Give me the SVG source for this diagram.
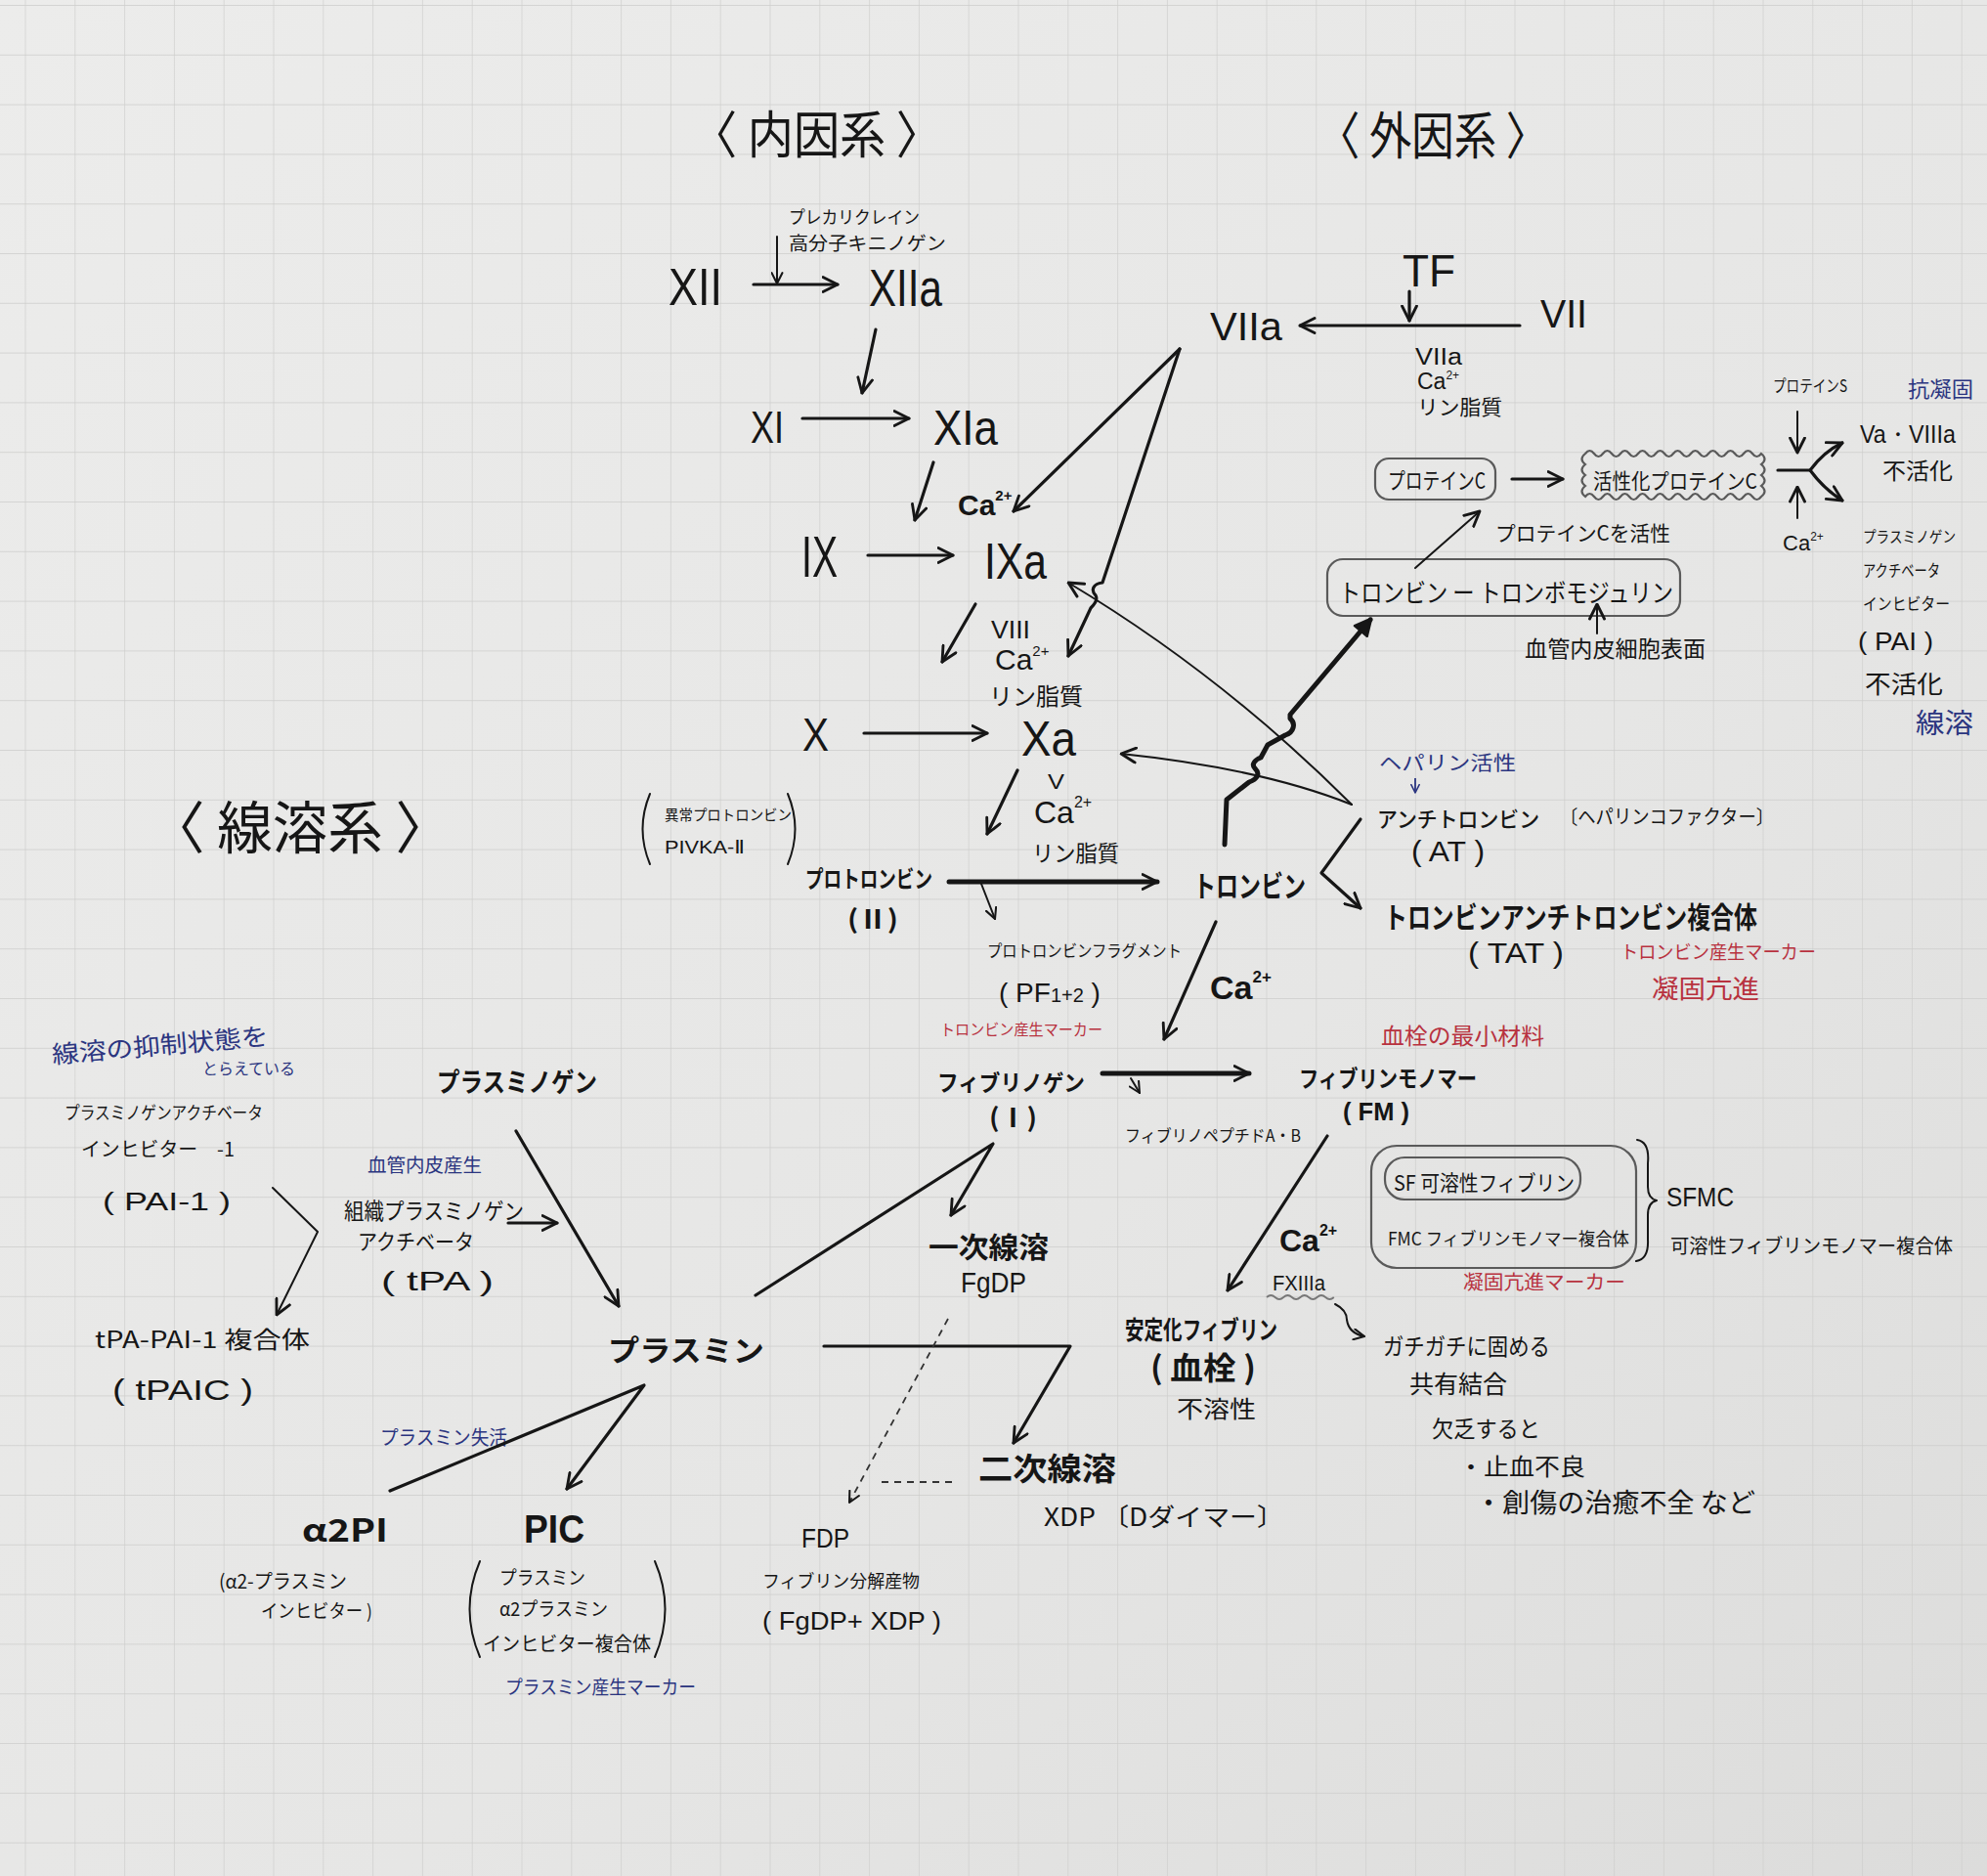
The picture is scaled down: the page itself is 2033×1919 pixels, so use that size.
<svg xmlns="http://www.w3.org/2000/svg" width="2033" height="1919" viewBox="0 0 2033 1919">
<defs>
<linearGradient id="paper" x1="0" y1="0" x2="1" y2="1">
<stop offset="0" stop-color="#ececeb"/>
<stop offset="0.6" stop-color="#e6e6e5"/>
<stop offset="1" stop-color="#dcdcdb"/>
</linearGradient>
<pattern id="grid" x="25.5" y="5" width="50.8" height="50.8" patternUnits="userSpaceOnUse">
<path d="M0,0 H50.8 M0,0 V50.8" stroke="#cdcdcb" stroke-width="1.3" fill="none"/>
</pattern>
<marker id="ah" viewBox="0 0 12 12" refX="11" refY="6" markerWidth="18" markerHeight="18" markerUnits="userSpaceOnUse" orient="auto">
<path d="M1,1 L11,6 L1,11" fill="none" stroke="#161616" stroke-width="1.9" stroke-linejoin="round" stroke-linecap="round"/>
</marker>
<marker id="ahs" viewBox="0 0 12 12" refX="11" refY="6" markerWidth="13" markerHeight="13" markerUnits="userSpaceOnUse" orient="auto">
<path d="M1,1 L11,6 L1,11" fill="none" stroke="#161616" stroke-width="1.9" stroke-linejoin="round" stroke-linecap="round"/>
</marker>
<marker id="ahbl" viewBox="0 0 12 12" refX="11" refY="6" markerWidth="10" markerHeight="10" markerUnits="userSpaceOnUse" orient="auto">
<path d="M1,1 L11,6 L1,11" fill="none" stroke="#2b3580" stroke-width="1.9" stroke-linejoin="round" stroke-linecap="round"/>
</marker>
<marker id="ahb" viewBox="0 0 12 12" refX="10" refY="6" markerWidth="20" markerHeight="20" markerUnits="userSpaceOnUse" orient="auto">
<path d="M1,1 L11,6 L1,11 Z" fill="#161616" stroke="#161616" stroke-width="1.5" stroke-linejoin="round"/>
</marker>
<style>
text{font-family:"Noto Sans CJK JP","Noto Sans",sans-serif;fill:#161616}
.lat{font-family:"Liberation Sans","DejaVu Sans",sans-serif}
.b{font-weight:bold}
.m{font-weight:500}
.blue{fill:#2b3580}
.red{fill:#b8323f}
.ln{fill:none;stroke:#161616;stroke-width:3.2;stroke-linecap:round;stroke-linejoin:round}
.thin{fill:none;stroke:#161616;stroke-width:2;stroke-linecap:round;stroke-linejoin:round}
.thick{fill:none;stroke:#161616;stroke-width:5;stroke-linecap:round;stroke-linejoin:round}
.dash{fill:none;stroke:#333;stroke-width:1.8;stroke-dasharray:7,6}
.box{fill:none;stroke:#5a5a5a;stroke-width:2.2}
</style>
</defs>

<rect width="2033" height="1919" fill="url(#paper)"/>
<rect width="2033" height="1919" fill="url(#grid)"/>

<!-- titles -->
<g id="title-intrinsic"><text x="707" y="157" font-size="52" textLength="257" lengthAdjust="spacingAndGlyphs">〈 内因系 〉</text></g>
<g id="title-extrinsic"><text x="1348" y="158" font-size="52" textLength="236" lengthAdjust="spacingAndGlyphs">〈 外因系 〉</text></g>
<g id="title-fibrinolysis"><text x="153" y="868" font-size="58" textLength="308" lengthAdjust="spacingAndGlyphs">〈 線溶系 〉</text></g>

<!-- intrinsic pathway -->
<g id="n-prekallikrein">
<text x="807" y="229" font-size="18" textLength="134" lengthAdjust="spacingAndGlyphs">プレカリクレイン</text>
<text x="807" y="256" font-size="19" textLength="161" lengthAdjust="spacingAndGlyphs">高分子キニノゲン</text>
</g>
<g id="n-XII"><text class="lat" x="684" y="312" font-size="54" textLength="55" lengthAdjust="spacingAndGlyphs">XII</text></g>
<g id="n-XIIa"><text class="lat" x="889" y="313" font-size="54" textLength="75" lengthAdjust="spacingAndGlyphs">XIIa</text></g>
<g id="n-XI"><text class="lat" x="768" y="453" font-size="46" textLength="34" lengthAdjust="spacingAndGlyphs">XI</text></g>
<g id="n-XIa"><text class="lat" x="955" y="455" font-size="50" textLength="66" lengthAdjust="spacingAndGlyphs">XIa</text></g>
<g id="n-ca1"><text class="lat b" x="980" y="527" font-size="30">Ca<tspan font-size="15" dy="-15">2+</tspan></text></g>
<g id="n-IX"><text class="lat" x="820" y="590" font-size="60" textLength="37" lengthAdjust="spacingAndGlyphs">IX</text></g>
<g id="n-IXa"><text class="lat" x="1007" y="592" font-size="52" textLength="64" lengthAdjust="spacingAndGlyphs">IXa</text></g>
<g id="n-cof-IXa">
<text class="lat" x="1014" y="653" font-size="26" textLength="40" lengthAdjust="spacingAndGlyphs">VIII</text>
<text class="lat" x="1018" y="685" font-size="30">Ca<tspan font-size="15" dy="-14">2+</tspan></text>
<text x="1012" y="721" font-size="24" textLength="96" lengthAdjust="spacingAndGlyphs">リン脂質</text>
</g>
<g id="n-X"><text class="lat" x="821" y="768" font-size="48" textLength="27" lengthAdjust="spacingAndGlyphs">X</text></g>
<g id="n-Xa"><text class="lat" x="1045" y="773" font-size="50" textLength="56" lengthAdjust="spacingAndGlyphs">Xa</text></g>
<g id="n-cof-Xa">
<text class="lat" x="1072" y="807" font-size="22" textLength="17" lengthAdjust="spacingAndGlyphs">V</text>
<text class="lat" x="1058" y="842" font-size="32">Ca<tspan font-size="16" dy="-16">2+</tspan></text>
<text x="1056" y="881" font-size="23" textLength="89" lengthAdjust="spacingAndGlyphs">リン脂質</text>
</g>
<g id="n-pivka">
<path class="thin" d="M665,812 Q650,848 665,884"/>
<text x="680" y="839" font-size="15" textLength="130" lengthAdjust="spacingAndGlyphs">異常プロトロンビン</text>
<text class="lat" x="680" y="873" font-size="19" textLength="82" lengthAdjust="spacingAndGlyphs">PIVKA-Ⅱ</text>
<path class="thin" d="M806,812 Q821,848 806,884"/>
</g>
<g id="n-prothrombin">
<text class="b" x="824" y="908" font-size="24" textLength="130" lengthAdjust="spacingAndGlyphs">プロトロンビン</text>
<text class="b" x="867" y="950" font-size="26" textLength="52" lengthAdjust="spacingAndGlyphs">(Ⅱ)</text>
</g>
<g id="n-pf12">
<text x="1010" y="979" font-size="17" textLength="199" lengthAdjust="spacingAndGlyphs">プロトロンビンフラグメント</text>
<text class="lat" x="1022" y="1025" font-size="28">(   PF<tspan font-size="20">1+2</tspan>   )</text>
<text class="red" x="962" y="1059" font-size="16" textLength="166" lengthAdjust="spacingAndGlyphs">トロンビン産生マーカー</text>
</g>
<g id="n-thrombin"><text class="b" x="1221" y="917" font-size="30" textLength="115" lengthAdjust="spacingAndGlyphs">トロンビン</text></g>
<g id="n-ca-thrombin"><text class="lat b" x="1238" y="1022" font-size="34">Ca<tspan font-size="17" dy="-17">2+</tspan></text></g>

<!-- extrinsic pathway -->
<g id="n-TF"><text class="lat" x="1435" y="293" font-size="46" textLength="54" lengthAdjust="spacingAndGlyphs">TF</text></g>
<g id="n-VIIa"><text class="lat m" x="1238" y="348" font-size="40" textLength="74" lengthAdjust="spacingAndGlyphs">VIIa</text></g>
<g id="n-VII"><text class="lat" x="1576" y="335" font-size="40" textLength="48" lengthAdjust="spacingAndGlyphs">VII</text></g>
<g id="n-cof-VIIa">
<text class="lat" x="1448" y="373" font-size="23" textLength="48" lengthAdjust="spacingAndGlyphs">VIIa</text>
<text class="lat" x="1450" y="398" font-size="23">Ca<tspan font-size="12" dy="-10">2+</tspan></text>
<text x="1450" y="424" font-size="21" textLength="87" lengthAdjust="spacingAndGlyphs">リン脂質</text>
</g>
<g id="n-proteinC">
<rect class="box" x="1407" y="469" width="123" height="42" rx="14"/>
<text x="1420" y="500" font-size="23" textLength="100" lengthAdjust="spacingAndGlyphs">プロテインC</text>
</g>
<g id="n-aPC">
<path class="box" d="M1622,464 q4.5,-6 9,0 q4.5,6 9,0 q4.5,-6 9,0 q4.5,6 9,0 q4.5,-6 9,0 q4.5,6 9,0 q4.5,-6 9,0 q4.5,6 9,0 q4.5,-6 9,0 q4.5,6 9,0 q4.5,-6 9,0 q4.5,6 9,0 q4.5,-6 9,0 q4.5,6 9,0 q4.5,-6 9,0 q4.5,6 9,0 q4.5,-6 9,0 q4.5,6 9,0 q4.5,-6 9,0 q4.5,6 9,0 q7,5.5 0,11 q7,5.5 0,11 q7,5.5 0,11 q7,5.5 0,11 q-4.5,6 -9,0 q-4.5,-6 -9,0 q-4.5,6 -9,0 q-4.5,-6 -9,0 q-4.5,6 -9,0 q-4.5,-6 -9,0 q-4.5,6 -9,0 q-4.5,-6 -9,0 q-4.5,6 -9,0 q-4.5,-6 -9,0 q-4.5,6 -9,0 q-4.5,-6 -9,0 q-4.5,6 -9,0 q-4.5,-6 -9,0 q-4.5,6 -9,0 q-4.5,-6 -9,0 q-4.5,6 -9,0 q-4.5,-6 -9,0 q-4.5,6 -9,0 q-4.5,-6 -9,0 q-7,-5.5 0,-11 q-7,-5.5 0,-11 q-7,-5.5 0,-11 q-7,-5.5 0,-11 Z"/>
<text x="1630" y="500" font-size="22" textLength="168" lengthAdjust="spacingAndGlyphs">活性化プロテインC</text>
</g>
<g id="n-activatePC"><text x="1530" y="553" font-size="21" textLength="179" lengthAdjust="spacingAndGlyphs">プロテインCを活性</text></g>
<g id="n-TM">
<rect class="box" x="1358" y="572" width="361" height="58" rx="16"/>
<text x="1370" y="616" font-size="26" textLength="342" lengthAdjust="spacingAndGlyphs">トロンビン ー トロンボモジュリン</text>
</g>
<g id="n-endothelium"><text x="1560" y="672" font-size="23" textLength="185" lengthAdjust="spacingAndGlyphs">血管内皮細胞表面</text></g>
<g id="n-proteinS"><text x="1814" y="401" font-size="17" textLength="76" lengthAdjust="spacingAndGlyphs">プロテインS</text></g>
<g id="n-anticoag"><text class="blue" x="1952" y="406" font-size="22" textLength="67" lengthAdjust="spacingAndGlyphs">抗凝固</text></g>
<g id="n-VaVIIIa">
<text class="lat" x="1903" y="453" font-size="25" textLength="98" lengthAdjust="spacingAndGlyphs">Va・VIIIa</text>
<text x="1926" y="490" font-size="23" textLength="72" lengthAdjust="spacingAndGlyphs">不活化</text>
</g>
<g id="n-ca-apc"><text class="lat" x="1824" y="563" font-size="22">Ca<tspan font-size="12" dy="-10">2+</tspan></text></g>
<g id="n-PAI">
<text x="1906" y="555" font-size="16" textLength="95" lengthAdjust="spacingAndGlyphs">プラスミノゲン</text>
<text x="1906" y="590" font-size="17" textLength="79" lengthAdjust="spacingAndGlyphs">アクチベータ</text>
<text x="1906" y="624" font-size="17" textLength="89" lengthAdjust="spacingAndGlyphs">インヒビター</text>
<text class="lat" x="1901" y="665" font-size="26" textLength="77" lengthAdjust="spacingAndGlyphs">( PAI )</text>
<text x="1908" y="709" font-size="25" textLength="80" lengthAdjust="spacingAndGlyphs">不活化</text>
<text class="blue" x="1960" y="750" font-size="28" textLength="59" lengthAdjust="spacingAndGlyphs">線溶</text>
</g>
<g id="n-AT">
<text class="blue" x="1411" y="788" font-size="20" textLength="140" lengthAdjust="spacingAndGlyphs">ヘパリン活性</text>
<text class="m" x="1409" y="846" font-size="22" textLength="166" lengthAdjust="spacingAndGlyphs">アンチトロンビン</text>
<text x="1596" y="843" font-size="20" textLength="219" lengthAdjust="spacingAndGlyphs">〔ヘパリンコファクター〕</text>
<text class="lat m" x="1444" y="881" font-size="30" textLength="75" lengthAdjust="spacingAndGlyphs">( AT )</text>
</g>
<g id="n-TAT">
<text class="b" x="1416" y="949" font-size="30" textLength="382" lengthAdjust="spacingAndGlyphs">トロンビンアンチトロンビン複合体</text>
<text class="lat m" x="1502" y="985" font-size="30" textLength="98" lengthAdjust="spacingAndGlyphs">( TAT )</text>
<text class="red" x="1658" y="981" font-size="19" textLength="200" lengthAdjust="spacingAndGlyphs">トロンビン産生マーカー</text>
<text class="red" x="1690" y="1021" font-size="26" textLength="110" lengthAdjust="spacingAndGlyphs">凝固亢進</text>
</g>

<!-- fibrin formation -->
<g id="n-fibrinogen">
<text class="b" x="959" y="1116" font-size="23" textLength="151" lengthAdjust="spacingAndGlyphs">フィブリノゲン</text>
<text class="b" x="1012" y="1153" font-size="26" textLength="49" lengthAdjust="spacingAndGlyphs">(Ⅰ)</text>
</g>
<g id="n-FPAB"><text x="1151" y="1168" font-size="17" textLength="180" lengthAdjust="spacingAndGlyphs">フィブリノペプチドA・B</text></g>
<g id="n-FM">
<text class="red" x="1413" y="1068" font-size="23" textLength="167" lengthAdjust="spacingAndGlyphs">血栓の最小材料</text>
<text class="b" x="1329" y="1112" font-size="24" textLength="182" lengthAdjust="spacingAndGlyphs">フィブリンモノマー</text>
<text class="lat b" x="1374" y="1146" font-size="26" textLength="68" lengthAdjust="spacingAndGlyphs">( FM )</text>
</g>
<g id="n-SFMC">
<rect class="box" x="1403" y="1172" width="271" height="125" rx="26"/>
<rect class="box" x="1417" y="1184" width="200" height="43" rx="20"/>
<text x="1426" y="1218" font-size="22" textLength="185" lengthAdjust="spacingAndGlyphs">SF 可溶性フィブリン</text>
<text x="1420" y="1274" font-size="18" textLength="247" lengthAdjust="spacingAndGlyphs">FMC フィブリンモノマー複合体</text>
<path class="thin" d="M1675,1166 Q1688,1168 1686,1190 L1686,1214 Q1686,1226 1695,1228 Q1686,1230 1686,1243 L1686,1268 Q1687,1288 1674,1290"/>
<text class="lat" x="1705" y="1234" font-size="28" textLength="69" lengthAdjust="spacingAndGlyphs">SFMC</text>
<text x="1709" y="1282" font-size="20" textLength="289" lengthAdjust="spacingAndGlyphs">可溶性フィブリンモノマー複合体</text>
<text class="red" x="1497" y="1319" font-size="20" textLength="166" lengthAdjust="spacingAndGlyphs">凝固亢進マーカー</text>
</g>
<g id="n-ca-FXIIIa">
<text class="lat b" x="1309" y="1280" font-size="32">Ca<tspan font-size="16" dy="-16">2+</tspan></text>
<text class="lat" x="1302" y="1320" font-size="22" textLength="54" lengthAdjust="spacingAndGlyphs">FXIIIa</text>
<path d="M1296,1327 q4.3,-4 8.6,0 q4.3,4 8.6,0 q4.3,-4 8.6,0 q4.3,4 8.6,0 q4.3,-4 8.6,0 q4.3,4 8.6,0 q4.3,-4 8.6,0 q4.3,4 8.6,0" fill="none" stroke="#777" stroke-width="1.8"/>
</g>
<g id="n-stablefibrin">
<text class="b" x="1151" y="1370" font-size="26" textLength="156" lengthAdjust="spacingAndGlyphs">安定化フィブリン</text>
<text class="b" x="1177" y="1411" font-size="32" textLength="108" lengthAdjust="spacingAndGlyphs">( 血栓 )</text>
<text x="1204" y="1450" font-size="24" textLength="81" lengthAdjust="spacingAndGlyphs">不溶性</text>
</g>
<g id="n-FXIII-note">
<text x="1415" y="1386" font-size="24" textLength="171" lengthAdjust="spacingAndGlyphs">ガチガチに固める</text>
<text x="1442" y="1425" font-size="25" textLength="100" lengthAdjust="spacingAndGlyphs">共有結合</text>
<text x="1465" y="1470" font-size="23" textLength="111" lengthAdjust="spacingAndGlyphs">欠乏すると</text>
<text x="1492" y="1509" font-size="24" textLength="130" lengthAdjust="spacingAndGlyphs">・止血不良</text>
<text x="1509" y="1547" font-size="27" textLength="287" lengthAdjust="spacingAndGlyphs">・創傷の治癒不全 など</text>
</g>

<!-- fibrinolysis -->
<g id="n-primary">
<text class="b" x="950" y="1287" font-size="29" textLength="123" lengthAdjust="spacingAndGlyphs">一次線溶</text>
<text class="lat" x="983" y="1322" font-size="30" textLength="67" lengthAdjust="spacingAndGlyphs">FgDP</text>
</g>
<g id="n-secondary">
<text class="b" x="1001" y="1514" font-size="32" textLength="141" lengthAdjust="spacingAndGlyphs">二次線溶</text>
<text x="1068" y="1561" font-size="25" textLength="246" lengthAdjust="spacingAndGlyphs">XDP 〔Dダイマー〕</text>
</g>
<g id="n-FDP">
<text class="lat" x="820" y="1583" font-size="28" textLength="49" lengthAdjust="spacingAndGlyphs">FDP</text>
<text x="780" y="1624" font-size="18" textLength="161" lengthAdjust="spacingAndGlyphs">フィブリン分解産物</text>
<text class="lat" x="780" y="1667" font-size="26" textLength="183" lengthAdjust="spacingAndGlyphs">(  FgDP+ XDP )</text>
</g>
<g id="n-plasminogen"><text class="b" x="447" y="1117" font-size="27" textLength="164" lengthAdjust="spacingAndGlyphs">プラスミノゲン</text></g>
<g id="n-plasmin"><text class="b" x="622" y="1392" font-size="30" textLength="160" lengthAdjust="spacingAndGlyphs">プラスミン</text></g>
<g id="n-tPA">
<text class="blue" x="376" y="1199" font-size="19" textLength="117" lengthAdjust="spacingAndGlyphs">血管内皮産生</text>
<text x="352" y="1247" font-size="23" textLength="184" lengthAdjust="spacingAndGlyphs">組織プラスミノゲン</text>
<text x="366" y="1278" font-size="22" textLength="119" lengthAdjust="spacingAndGlyphs">アクチベータ</text>
<text class="lat" x="390" y="1320" font-size="28" textLength="115" lengthAdjust="spacingAndGlyphs">(  tPA )</text>
</g>
<g id="n-PAI1">
<text class="blue" x="54" y="1088" font-size="25" textLength="222" lengthAdjust="spacingAndGlyphs" transform="rotate(-5 54 1088)">線溶の抑制状態を</text>
<text class="blue" x="207" y="1099" font-size="16" textLength="95" lengthAdjust="spacingAndGlyphs">とらえている</text>
<text x="66" y="1145" font-size="18" textLength="203" lengthAdjust="spacingAndGlyphs">プラスミノゲンアクチベータ</text>
<text x="83" y="1183" font-size="20" textLength="157" lengthAdjust="spacingAndGlyphs">インヒビター　-1</text>
<text class="lat" x="105" y="1238" font-size="26" textLength="131" lengthAdjust="spacingAndGlyphs">( PAI-1 )</text>
</g>
<g id="n-tPAIC">
<text x="97" y="1379" font-size="24" textLength="220" lengthAdjust="spacingAndGlyphs">tPA-PAI-1 複合体</text>
<text class="lat" x="115" y="1432" font-size="30" textLength="144" lengthAdjust="spacingAndGlyphs">( tPAIC )</text>
</g>
<g id="n-a2PI">
<text class="blue" x="389" y="1478" font-size="20" textLength="130" lengthAdjust="spacingAndGlyphs">プラスミン失活</text>
<text class="b" x="309" y="1577" font-size="32" textLength="88" lengthAdjust="spacingAndGlyphs">α2PI</text>
<text x="224" y="1625" font-size="20" textLength="131" lengthAdjust="spacingAndGlyphs">(α2-プラスミン</text>
<text x="267" y="1655" font-size="19" textLength="114" lengthAdjust="spacingAndGlyphs">インヒビター )</text>
</g>
<g id="n-PIC">
<text class="lat b" x="536" y="1578" font-size="40" textLength="62" lengthAdjust="spacingAndGlyphs">PIC</text>
<path class="thin" d="M491,1597 Q470,1646 491,1695"/>
<text x="511" y="1621" font-size="19" textLength="88" lengthAdjust="spacingAndGlyphs">プラスミン</text>
<text x="511" y="1653" font-size="19" textLength="111" lengthAdjust="spacingAndGlyphs">α2プラスミン</text>
<text x="494" y="1689" font-size="20" textLength="172" lengthAdjust="spacingAndGlyphs">インヒビター複合体</text>
<path class="thin" d="M670,1597 Q691,1646 670,1695"/>
<text class="blue" x="517" y="1733" font-size="19" textLength="195" lengthAdjust="spacingAndGlyphs">プラスミン産生マーカー</text>
</g>

<!-- connectors -->
<g id="connectors">
<path class="thin" d="M795,242 L795,290" marker-end="url(#ahs)"/>
<path class="ln" d="M771,291 L857,291" marker-end="url(#ah)"/>
<path class="ln" d="M896,337 L882,402" marker-end="url(#ah)"/>
<path class="ln" d="M821,428 L930,428" marker-end="url(#ah)"/>
<path class="ln" d="M955,473 L936,532" marker-end="url(#ah)"/>
<path class="ln" d="M888,568 L975,568" marker-end="url(#ah)"/>
<path class="ln" d="M1207,357 L1037,523" marker-end="url(#ah)"/>
<path class="ln" d="M1207,357 L1128,596 C1118,597 1116,604 1121,609 C1124,614 1119,619 1116,622 L1093,671" marker-end="url(#ah)"/>
<path class="ln" d="M998,618 L964,677" marker-end="url(#ah)"/>
<path class="ln" d="M884,750 L1010,750" marker-end="url(#ah)"/>
<path class="ln" d="M1041,788 L1010,853" marker-end="url(#ah)"/>
<path class="thick" d="M971,902 L1184,902" marker-end="url(#ah)"/>
<path class="thin" d="M1004,904 L1018,940" marker-end="url(#ahs)"/>
<path class="thick" d="M1253,864 L1255,818 L1278,800 C1286,797 1290,792 1284,786 C1280,782 1284,777 1290,775 L1297,762 L1315,752 C1324,749 1326,740 1320,735 L1320,731 L1402,634" marker-end="url(#ahb)"/>
<path class="thin" d="M1383,823 Q1250,690 1093,596" marker-end="url(#ah)"/>
<path class="thin" d="M1383,823 Q1290,786 1147,771" marker-end="url(#ah)"/>
<path class="ln" d="M1392,838 L1352,893 L1392,929" marker-end="url(#ah)"/>
<path d="M1448,796 L1448,811" fill="none" stroke="#2b3580" stroke-width="1.8" marker-end="url(#ahbl)"/>
<path class="ln" d="M1244,943 L1191,1063" marker-end="url(#ah)"/>
<path class="ln" d="M1442,298 L1442,328" marker-end="url(#ah)"/>
<path class="ln" d="M1555,333 L1330,333" marker-end="url(#ah)"/>
<path class="ln" d="M1547,490 L1599,490" marker-end="url(#ah)"/>
<path class="thin" d="M1448,581 L1514,523" marker-end="url(#ah)"/>
<path class="thin" d="M1634,648 L1634,618" marker-end="url(#ah)"/>
<path class="thin" d="M1839,421 L1839,463" marker-end="url(#ah)"/>
<path class="thin" d="M1839,530 L1839,498" marker-end="url(#ah)"/>
<path class="ln" d="M1819,481 L1852,481 Q1866,462 1885,453" marker-end="url(#ah)"/>
<path class="ln" d="M1852,481 Q1866,500 1885,512" marker-end="url(#ah)"/>
<path class="thick" d="M1128,1098 L1278,1098" marker-end="url(#ah)"/>
<path class="thin" d="M1157,1103 L1166,1118" marker-end="url(#ahs)"/>
<path class="ln" d="M1358,1162 L1256,1320" marker-end="url(#ah)"/>
<path class="thin" d="M1366,1334 Q1378,1340 1378,1350 Q1380,1364 1396,1367" marker-end="url(#ahs)"/>
<path class="ln" d="M528,1157 L633,1336" marker-end="url(#ah)"/>
<path class="ln" d="M520,1251 L570,1251" marker-end="url(#ah)"/>
<path class="thin" d="M279,1215 L325,1260 L283,1345" marker-end="url(#ah)"/>
<path class="ln" d="M773,1325 L1016,1170 L973,1243" marker-end="url(#ah)"/>
<path class="ln" d="M843,1377 L1095,1377 L1037,1476" marker-end="url(#ah)"/>
<path class="ln" d="M399,1525 L659,1417 L580,1523" marker-end="url(#ah)"/>
<path class="dash" d="M970,1349 L869,1537" marker-end="url(#ahs)"/>
<path class="dash" d="M974,1516 L896,1516"/>
</g>
</svg>
